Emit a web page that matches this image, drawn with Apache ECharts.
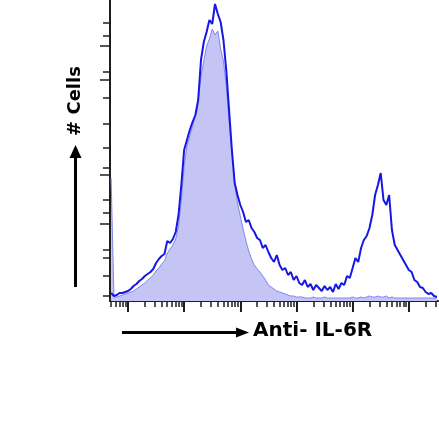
<!DOCTYPE html>
<html>
<head>
<meta charset="utf-8">
<script src="https://cdn.jsdelivr.net/npm/echarts@6/dist/echarts.min.js"></script>
<style>
html,body{margin:0;padding:0;background:#fff;}
#chart{width:439px;height:424px;}
</style>
</head>
<body>
<div id="chart"></div>
<script>
// x positions in decades (log10 of fluorescence intensity)
var xDecades = [];
for (var i = 0; i <= 116; i++) { xDecades.push(+(0.70 + i * 0.05).toFixed(2)); }

// control (filled) histogram counts
var controlCounts = [123,4,4,5,6,7,8,9,10,12, 14,16,18,21,23,26,30,33,37,40,
  48,52,56,62,75,100,135,155,165,175, 185,200,225,240,255,262,272,266,270,252,
  240,215,180,150,118,98,85,72,60,50, 42,36,32,29,25,21,16,14,12,10,
  9,8,7,6,5,5,4,4,4,3, 3,3,4,3,3,3,4,3,3,3,
  3,3,3,3,3,3,4,3,3,4, 3,4,5,4,4,5,4,4,5,3,
  4,3,3,3,3,3,3,3,3,3, 3,3,3,3,3,3,3];

// Anti-IL-6R stained histogram counts
var stainedCounts = [8,5,6,8,8,9,10,12,15,17, 20,22,25,27,29,32,38,42,45,47,
  60,58,62,69,86,116,151,161,171,179, 186,201,241,259,269,281,277,297,287,279,
  261,231,191,151,118,106,96,89,79,81, 73,69,63,61,53,56,49,43,39,46,
  36,31,33,26,29,21,25,18,16,21, 14,17,11,16,13,10,15,11,14,9,
  17,12,18,16,25,23,33,43,39,53, 61,65,73,86,106,116,128,101,96,106,
  71,56,51,46,41,36,31,29,21,19, 14,13,9,7,8,5,4];

// axis tick positions
var decades = [0,1,2,3,4,5,6,7];
var minorMultipliers = [2,3,4,5,6,7,8,9];
var yTickValues = [278,265,229,203,177,153,133,101,88,51,43,25,5];
var yLongTickValues = [255,221,126,77];

var xMin = 0.68, xMax = 6.52;
var xMajorTicks = decades.filter(function(d){return d>=xMin && d<=xMax;});
var xMinorTicks = [];
decades.forEach(function(d){
  minorMultipliers.forEach(function(m){
    var v = d + Math.log10(m);
    if (v >= xMin && v <= xMax) xMinorTicks.push(v);
  });
});

function pairs(ys){ return xDecades.map(function(x,i){ return [x, ys[i]]; }); }

var chart = echarts.init(document.getElementById('chart'), null, {renderer:'canvas'});
var axisColor = '#1e1e1e';
chart.setOption({
  animation:false,
  backgroundColor:'#ffffff',
  grid:{left:110, right:1, top:0, bottom:123, containLabel:false, outerBoundsMode:'none'},
  xAxis:[{
    type:'value', min:xMin, max:xMax, position:'bottom',
    axisLine:{show:true, onZero:false, lineStyle:{color:axisColor, width:2}},
    axisTick:{show:true, inside:false, length:6, customValues:xMinorTicks, lineStyle:{color:axisColor, width:1.5}},
    axisLabel:{show:false}, splitLine:{show:false}
  },{
    type:'value', min:xMin, max:xMax, position:'bottom', offset:0,
    axisLine:{show:false},
    axisTick:{show:true, inside:false, length:11, customValues:xMajorTicks, lineStyle:{color:axisColor, width:2}},
    axisLabel:{show:false}, splitLine:{show:false}
  }],
  yAxis:[{
    type:'value', min:0, max:301, position:'left',
    axisLine:{show:true, onZero:false, lineStyle:{color:axisColor, width:2}},
    axisTick:{show:true, inside:false, length:7, customValues:yTickValues, lineStyle:{color:axisColor, width:1.5}},
    axisLabel:{show:false}, splitLine:{show:false}
  },{
    type:'value', min:0, max:301, position:'left', offset:0,
    axisLine:{show:false},
    axisTick:{show:true, inside:false, length:10, customValues:yLongTickValues, lineStyle:{color:axisColor, width:1.5}},
    axisLabel:{show:false}, splitLine:{show:false}
  }],
  series:[{
    type:'line', name:'Control', data:pairs(controlCounts), xAxisIndex:0, yAxisIndex:0,
    symbol:'none', smooth:false, z:2,
    lineStyle:{color:'#8484ee', width:1},
    areaStyle:{color:'#c4c4f5', opacity:1}
  },{
    type:'line', name:'Anti-IL-6R', data:pairs(stainedCounts), xAxisIndex:0, yAxisIndex:0,
    symbol:'none', smooth:false, z:3,
    lineStyle:{color:'#1616e6', width:2}
  }],
  graphic:[
    {type:'line', shape:{x1:75.5, y1:287, x2:75.5, y2:155}, style:{stroke:'#000', lineWidth:3}},
    {type:'polygon', shape:{points:[[75.5,145],[69.5,158],[81.5,158]]}, style:{fill:'#000'}},
    {type:'text', x:75.5, y:101, rotation:Math.PI/2,
      style:{text:'# Cells', fill:'#000', font:'bold 18px "DejaVu Sans"', align:'center', verticalAlign:'middle'}},
    {type:'line', shape:{x1:122, y1:332.5, x2:238, y2:332.5}, style:{stroke:'#000', lineWidth:3}},
    {type:'polygon', shape:{points:[[249,332.5],[236,327.5],[236,337.5]]}, style:{fill:'#000'}},
    {type:'text', x:253, y:331,
      style:{text:'Anti- IL-6R', fill:'#000', font:'bold 20px "DejaVu Sans"', align:'left', verticalAlign:'middle'}}
  ]
});
</script>
</body>
</html>
